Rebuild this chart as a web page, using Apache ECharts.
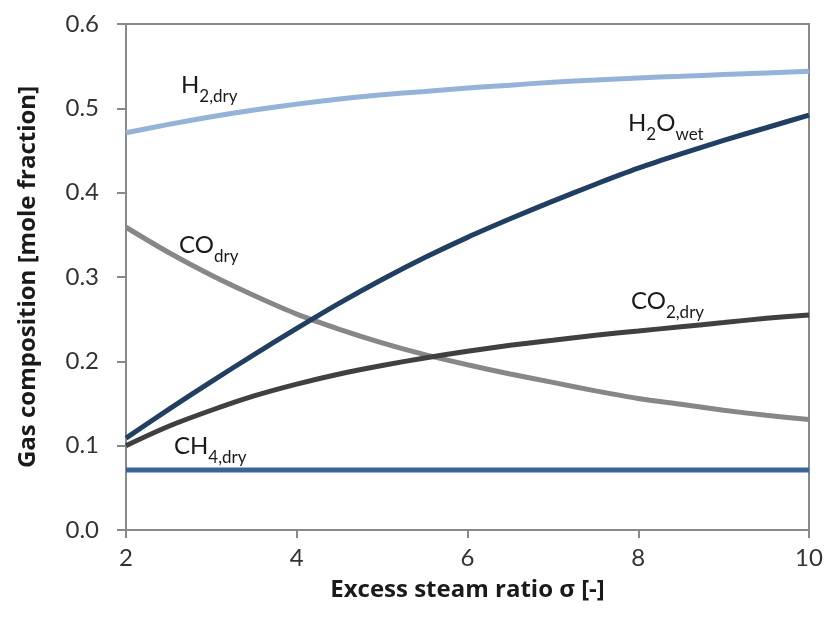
<!DOCTYPE html>
<html>
<head>
<meta charset="utf-8">
<title>Gas composition vs excess steam ratio</title>
<script src="https://cdn.jsdelivr.net/npm/echarts@6/dist/echarts.min.js"></script>
<style>
  html, body { margin: 0; padding: 0; background: #ffffff; }
  #chart { width: 832px; height: 625px; }
</style>
</head>
<body>
<div id="chart"></div>
<script>
// Excess steam ratio sigma [-]
const sigma = [2, 2.5, 3, 3.5, 4, 4.5, 5, 5.5, 6, 6.5, 7, 7.5, 8, 8.5, 9, 9.5, 10];

// Gas composition [mole fraction]
const h2Dry  = [0.471, 0.481, 0.490, 0.498, 0.505, 0.511, 0.516, 0.520, 0.524, 0.5275, 0.531, 0.5335, 0.536, 0.538, 0.540, 0.542, 0.544];
const h2oWet = [0.109, 0.143, 0.176, 0.208, 0.239, 0.269, 0.297, 0.323, 0.347, 0.369, 0.390, 0.410, 0.429, 0.446, 0.462, 0.477, 0.492];
const coDry  = [0.359, 0.329, 0.302, 0.278, 0.256, 0.238, 0.222, 0.208, 0.196, 0.185, 0.175, 0.165, 0.156, 0.149, 0.142, 0.136, 0.131];
const co2Dry = [0.100, 0.123, 0.142, 0.159, 0.173, 0.185, 0.195, 0.204, 0.212, 0.219, 0.225, 0.231, 0.236, 0.241, 0.246, 0.251, 0.255];
const ch4Dry = [0.071, 0.071, 0.071, 0.071, 0.071, 0.071, 0.071, 0.071, 0.071, 0.071, 0.071, 0.071, 0.071, 0.071, 0.071, 0.071, 0.071];

// Axis ticks
const xTicks = { min: 2, max: 10, step: 2 };
const yTicks = { min: 0, max: 0.6, step: 0.1 };

const FONT = 'Lato, "Open Sans", "DejaVu Sans", sans-serif';
const TITLE_FONT = '"Open Sans", Lato, "DejaVu Sans", sans-serif';
const AXIS_GRAY = '#898989';

function pairs(ys) { return sigma.map((x, i) => [x, ys[i]]); }

// Curve name label: main text plus a lowered subscript
function curveLabel(parts, at) {
  return {
    symbol: 'circle',
    symbolSize: 0,
    silent: true,
    data: [{
      coord: at,
      label: {
        show: true,
        position: [0, 0],
        align: 'left',
        verticalAlign: 'top',
        formatter: parts.map(p => '{' + p[0] + '|' + p[1] + '}').join(''),
        rich: {
          m: { fontFamily: FONT, fontSize: 24, lineHeight: 26, color: '#1a1a1a', verticalAlign: 'top' },
          s: { fontFamily: FONT, fontSize: 17, lineHeight: 20, color: '#1a1a1a', verticalAlign: 'top', padding: [15, 0, 0, 0] }
        }
      }
    }]
  };
}

function lineSeries(name, ys, color, label) {
  return {
    name: name,
    type: 'line',
    data: pairs(ys),
    smooth: 0.3,
    showSymbol: false,
    symbol: 'none',
    lineStyle: { color: color, width: 5, cap: 'butt' },
    z: 3,
    markPoint: label
  };
}

const chart = echarts.init(document.getElementById('chart'), null, { renderer: 'canvas' });

chart.setOption({
  animation: false,
  backgroundColor: '#ffffff',
  grid: {
    left: 126, right: 23, top: 24, bottom: 95,
    show: true, borderColor: AXIS_GRAY, borderWidth: 2, backgroundColor: 'transparent'
  },
  xAxis: {
    type: 'value',
    min: xTicks.min, max: xTicks.max, interval: xTicks.step,
    name: 'Excess steam ratio σ [-]',
    nameLocation: 'middle',
    nameGap: 48,
    nameTextStyle: { fontFamily: TITLE_FONT, fontSize: 24, fontWeight: 'bold', color: '#1a1a1a' },
    axisLine: { show: true, lineStyle: { color: AXIS_GRAY, width: 2 } },
    axisTick: { show: true, inside: false, length: 8, lineStyle: { color: AXIS_GRAY, width: 2 } },
    axisLabel: { fontFamily: FONT, fontSize: 24, color: '#333333', margin: 16 },
    splitLine: { show: false }
  },
  yAxis: {
    type: 'value',
    min: yTicks.min, max: yTicks.max, interval: yTicks.step,
    name: 'Gas composition [mole fraction]',
    nameLocation: 'middle',
    nameGap: 86,
    nameTextStyle: { fontFamily: TITLE_FONT, fontSize: 24, fontWeight: 'bold', color: '#1a1a1a' },
    axisLine: { show: true, lineStyle: { color: AXIS_GRAY, width: 2 } },
    axisTick: { show: true, inside: false, length: 9, lineStyle: { color: AXIS_GRAY, width: 2 } },
    axisLabel: { fontFamily: FONT, fontSize: 24, color: '#333333', margin: 27,
                 formatter: v => v.toFixed(1) },
    splitLine: { show: false }
  },
  series: [
    lineSeries('CH4,dry', ch4Dry, '#3a6496', curveLabel([['m', 'CH'], ['s', '4,dry']], [2.562, 0.1138])),
    lineSeries('CO,dry',  coDry,  '#878787', curveLabel([['m', 'CO'], ['s', 'dry']], [2.621, 0.3516])),
    lineSeries('CO2,dry', co2Dry, '#404040', curveLabel([['m', 'CO'], ['s', '2,dry']], [7.915, 0.2852])),
    lineSeries('H2O,wet', h2oWet, '#213f63', curveLabel([['m', 'H'], ['s', '2'], ['m', 'O'], ['s', 'wet']], [7.88, 0.4969])),
    lineSeries('H2,dry',  h2Dry,  '#95b3d7', curveLabel([['m', 'H'], ['s', '2,dry']], [2.644, 0.5413]))
  ]
});
</script>
</body>
</html>
